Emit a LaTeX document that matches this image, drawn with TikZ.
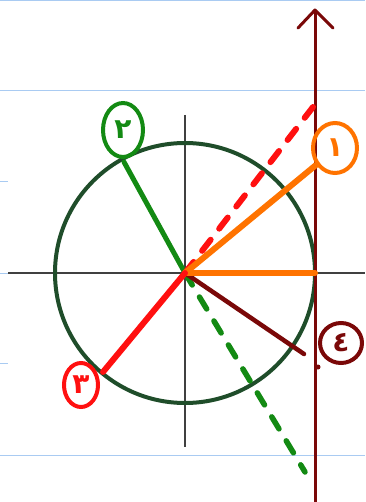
\documentclass[tikz,border=0pt]{standalone}
\usepackage{fontspec}
\newfontfamily\arabicfont[Script=Arabic]{DejaVu Sans}
\usetikzlibrary{shapes.geometric}
\definecolor{ruleblue}{HTML}{A9CBF2}
\definecolor{circgreen}{HTML}{1F4D2A}
\definecolor{lgreen}{HTML}{138A13}
\definecolor{lorange}{HTML}{FF7300}
\definecolor{lred}{HTML}{FF1010}
\definecolor{lmaroon}{HTML}{7A0808}
\tikzset{
  rule/.style={ruleblue, line width=1pt},
  axis/.style={black!75, line width=1.5pt},
  vec/.style={line width=6pt, line cap=round},
  dashvec/.style={line width=6pt, line cap=round, dash pattern=on 14pt off 14pt},
  tag/.style={ellipse, draw, line width=4pt, inner sep=0pt, font=\arabicfont\bfseries\fontsize{28}{28}\selectfont}
}
\begin{document}
\begin{tikzpicture}[x=1pt,y=-1pt]
\useasboundingbox (0,0) rectangle (365,502);
% ruled lines
\draw[rule] (0,1) -- (365,1);
\draw[rule] (0,91) -- (365,91);
\draw[rule] (0,182) -- (8,182);
\draw[rule] (0,273) -- (8,273);
\draw[rule] (0,363) -- (8,363);
\draw[rule] (0,455) -- (365,455);
% axes
\coordinate (O) at (185,273);
\coordinate (xl) at (8,273);
\coordinate (xr) at (365,273);
\coordinate (yt) at (185,115);
\coordinate (yb) at (185,447);
\draw[axis] (xl) -- (xr);
\draw[axis] (yt) -- (yb);
% circle
\draw[circgreen, line width=4pt] (O) circle[radius=130];
% maroon vertical arrow
\coordinate (mb) at (315,502);
\coordinate (mt) at (315,10);
\draw[lmaroon, line width=3pt] (mb) -- (mt);
\draw[lmaroon, line width=3pt, line cap=round, line join=round] (298,28) -- (mt) -- (333,28);
% vectors
\coordinate (p1) at (316,165);
\coordinate (p1x) at (315,273);
\coordinate (p2) at (124,162);
\coordinate (p2d) at (305,472);
\coordinate (p3) at (103,372);
\coordinate (p3d) at (313,107);
\coordinate (p4) at (304,354);
\draw[vec, lgreen, line width=5pt] (O) -- (p2);
\draw[dashvec, lgreen, line width=5.5pt] (O) -- (p2d);
\draw[dashvec, lred] (O) -- (p3d);
\draw[vec, lmaroon, line width=4.5pt] (O) -- (p4);
\draw[vec, lorange] (O) -- (p1);
\draw[vec, lorange] (O) -- (p1x);
\draw[vec, lred] (O) -- (p3);
% labels
\node[tag, lorange, minimum width=44pt, minimum height=50pt] (t1) at (335,148) {١};
\node[tag, lgreen, minimum width=40pt, minimum height=54pt] (t2) at (123,130) {٢};
\node[tag, lred, minimum width=34pt, minimum height=44pt] (t3) at (81,385) {٣};
\node[tag, lmaroon, minimum width=42pt, minimum height=40pt] (t4) at (341,343) {٤};
\fill[lmaroon] (318,367) circle[radius=2.5];
\end{tikzpicture}
\end{document}
